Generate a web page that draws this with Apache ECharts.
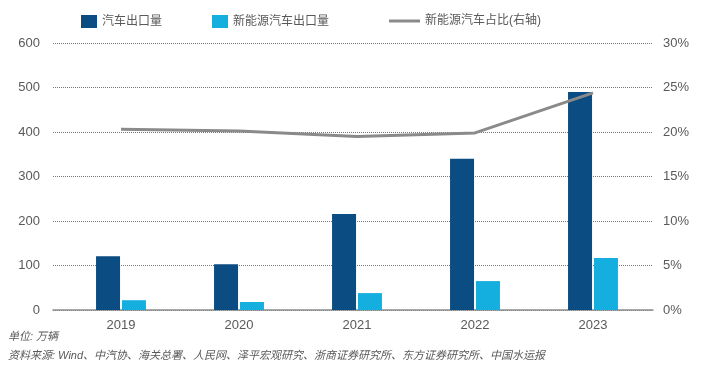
<!DOCTYPE html>
<html>
<head>
<meta charset="utf-8">
<script src="https://cdn.jsdelivr.net/npm/echarts@6/dist/echarts.min.js"></script>
<style>
  html, body { margin: 0; padding: 0; background: #fff; }
  #chart { width: 701px; height: 376px; }
</style>
</head>
<body>
<div id="chart"></div>
<script>
// 数据
var years = ['2019', '2020', '2021', '2022', '2023'];
var carExport = [121, 103, 216, 340, 490];      // 汽车出口量（万辆）
var nevExport = [22, 18, 38, 65, 117];          // 新能源汽车出口量（万辆）
var nevShare = [20.3, 20.1, 19.5, 19.9, 24.4];  // 新能源汽车占比（%）

var font = 'Liberation Sans, "Noto Sans CJK SC", sans-serif';
var textGray = '#595959';

var myChart = echarts.init(document.getElementById('chart'));
var option = {
    animation: false,
    textStyle: { fontFamily: font },
    legend: [
        {
            data: ['汽车出口量', '新能源汽车出口量'],
            left: 76, top: 10,
            icon: 'rect', itemWidth: 16, itemHeight: 13,
            itemGap: 50,
            textStyle: { color: textGray, fontSize: 12, fontFamily: font }
        },
        {
            data: ['新能源汽车占比(右轴)'],
            left: 384, top: 10,
            icon: 'rect', itemWidth: 31, itemHeight: 3,
            textStyle: { color: textGray, fontSize: 12, fontFamily: font }
        }
    ],
    grid: [
        { left: 62, right: 49, top: 43, bottom: 66 },
        // 背景网格线，比绘图区略宽
        { left: 53, right: 48, top: 43, bottom: 66 }
    ],
    xAxis: [
        {
            type: 'category',
            data: years,
            axisTick: { show: false },
            axisLine: { show: false },
            axisLabel: { color: textGray, fontSize: 13, margin: 9 }
        },
        {
            gridIndex: 1, type: 'value', min: 0, max: 1,
            axisTick: { show: false },
            axisLabel: { show: false },
            splitLine: { show: false },
            axisLine: { lineStyle: { color: '#8c8c8c', width: 1.5 } }
        }
    ],
    yAxis: [
        {
            type: 'value', min: 0, max: 600, interval: 100,
            axisLabel: { color: textGray, fontSize: 13, margin: 22 },
            splitLine: { show: false }
        },
        {
            type: 'value', min: 0, max: 30, interval: 5,
            axisLabel: { color: textGray, fontSize: 13, formatter: '{value}%', margin: 11 },
            splitLine: { show: false }
        },
        {
            gridIndex: 1, type: 'value', min: 0, max: 600, interval: 100,
            axisLabel: { show: false },
            axisLine: { show: false },
            axisTick: { show: false },
            splitLine: { lineStyle: { type: 'dotted', color: '#777', width: 1 } }
        }
    ],
    series: [
        {
            name: '汽车出口量', type: 'bar', data: carExport,
            barWidth: 24, barGap: '8%', z: 3,
            itemStyle: { color: '#0b4c82' }
        },
        {
            name: '新能源汽车出口量', type: 'bar', data: nevExport,
            barWidth: 24, z: 3,
            itemStyle: { color: '#14afdf' }
        },
        {
            name: '新能源汽车占比(右轴)', type: 'line', yAxisIndex: 1, data: nevShare,
            showSymbol: false, symbol: 'none', z: 4,
            lineStyle: { color: '#8a8a8a', width: 3 },
            itemStyle: { color: '#8a8a8a' }
        }
    ],
    graphic: [
        {
            type: 'text', left: 8, top: 331,
            style: { text: '单位: 万辆', fill: textGray, fontSize: 11, fontStyle: 'italic', fontFamily: font }
        },
        {
            type: 'text', left: 8, top: 350,
            style: {
                text: '资料来源: Wind、中汽协、海关总署、人民网、泽平宏观研究、浙商证券研究所、东方证券研究所、中国水运报',
                fill: textGray, fontSize: 11, fontStyle: 'italic', fontFamily: font
            }
        }
    ]
};
myChart.setOption(option);
</script>
</body>
</html>
